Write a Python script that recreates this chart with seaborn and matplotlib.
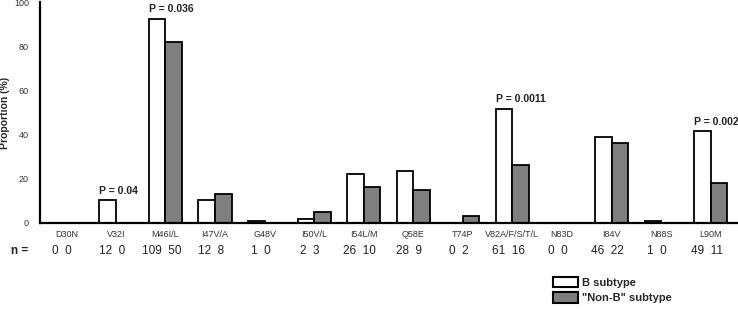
import pandas as pd
import matplotlib
matplotlib.use("Agg")
import matplotlib.pyplot as plt
from matplotlib.patches import Patch
import seaborn as sns

mutations = ["D30N", "V32I", "M46I/L", "I47V/A", "G48V", "I50V/L", "I54L/M",
             "Q58E", "T74P", "V82A/F/S/T/L", "N83D", "I84V", "N88S", "L90M"]
b_pct = [0, 10.2, 92.4, 10.2, 0.8, 1.7, 22.0, 23.7, 0, 51.7, 0, 39.0, 0.8, 41.5]
nonb_pct = [0, 0, 82.0, 13.1, 0, 4.9, 16.4, 14.8, 3.3, 26.2, 0, 36.1, 0, 18.0]
n_b = [0, 12, 109, 12, 1, 2, 26, 28, 0, 61, 0, 46, 1, 49]
n_nonb = [0, 0, 50, 8, 0, 3, 10, 9, 2, 16, 0, 22, 0, 11]
p_mut = ["V32I", "M46I/L", "V82A/F/S/T/L", "L90M"]
p_text = ["P = 0.04", "P = 0.036", "P = 0.0011", "P = 0.002"]
subtypes = ["B subtype", '"Non-B" subtype']
colors = ["white", "#7f7f7f"]

df = pd.DataFrame({
    "mutation": mutations * 2,
    "pct": b_pct + nonb_pct,
    "subtype": [subtypes[0]] * len(mutations) + [subtypes[1]] * len(mutations),
})

sns.set_style("white")
plt.rcParams["font.family"] = ["Liberation Sans", "DejaVu Sans"]

fig = plt.figure(figsize=(7.38, 3.09), dpi=100)
ax = fig.add_axes([40 / 738, 86 / 309, 697 / 738, 221 / 309])

sns.barplot(data=df, x="mutation", y="pct", hue="subtype", palette=colors,
            edgecolor="black", linewidth=1.3, width=0.67, gap=0,
            legend=False, ax=ax)

ax.set_ylim(0, 100)
ax.set_xlim(-0.53, 13.53)
ax.set_yticks([0, 20, 40, 60, 80, 100])
ax.tick_params(axis="y", length=3, width=1, labelsize=6.5, colors="#333333", pad=5)
ax.tick_params(axis="x", length=0, labelsize=6.5, labelcolor="#333333", pad=5)
ax.set_xlabel("")
ax.set_ylabel("Proportion (%)", fontsize=7.5, fontweight="bold", labelpad=3)
for s in ["top", "right"]:
    ax.spines[s].set_visible(False)
for s in ["left", "bottom"]:
    ax.spines[s].set_linewidth(1.6)
    ax.spines[s].set_color("black")

# P-values above the B-subtype bars
for m, t in zip(p_mut, p_text):
    i = mutations.index(m)
    ax.text(i - 0.34, b_pct[i] + 2, t, ha="left", va="bottom",
            fontsize=7.5, fontweight="bold", color="#222222")

# n counts row
fig.text(11 / 738, 1 - 251 / 309, "n =", ha="left", va="center",
         fontsize=8.5, fontweight="bold", color="#222222")
for i in range(len(mutations)):
    ax.text(i - 0.08, -0.127, f"{n_b[i]}  {n_nonb[i]}", transform=ax.get_xaxis_transform(),
            ha="center", va="center", fontsize=8.5, color="#222222")

handles = [Patch(facecolor=c, edgecolor="black", linewidth=1.5) for c in colors]
fig.legend(handles, subtypes, loc="upper left", bbox_to_anchor=(547 / 738, 1 - 271 / 309),
           frameon=False, borderpad=0, handlelength=2.3, handleheight=1.1,
           handletextpad=0.35, labelspacing=0.4,
           prop={"size": 8, "weight": "bold"})

fig.savefig("out.png", dpi=100)
